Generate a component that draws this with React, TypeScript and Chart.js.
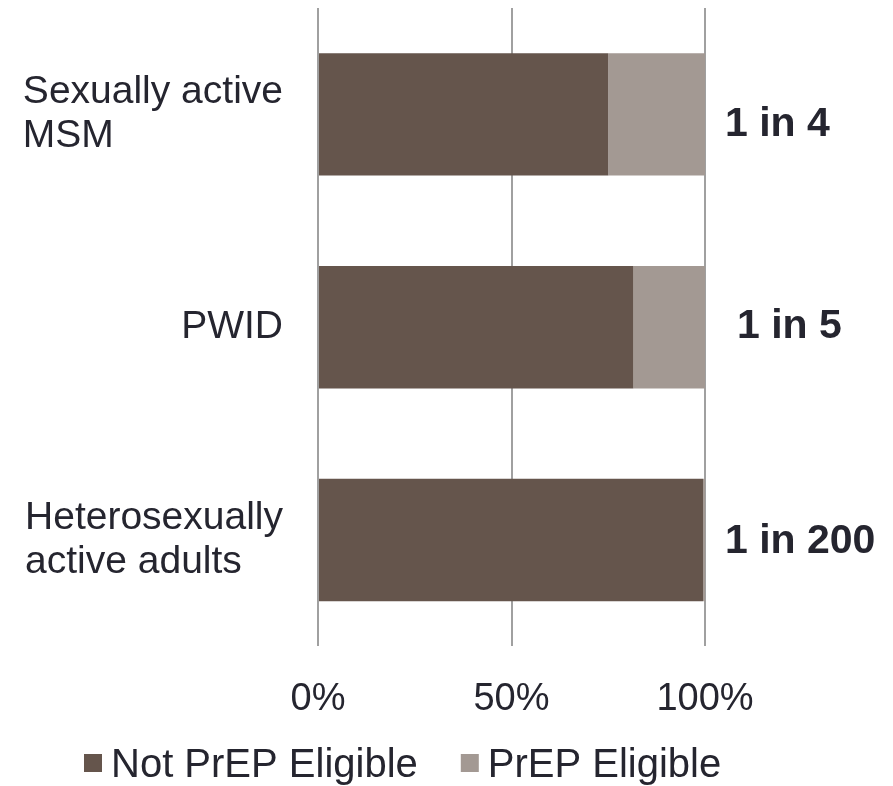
import React, { useEffect, useRef } from "react";
import { Chart, registerables } from "chart.js";

Chart.register(...registerables);

const categories: string[][] = [["Sexually active", "MSM"], ["PWID"], ["Heterosexually", "active adults"]];
const notEligible: number[] = [75, 81.5, 99.5];
const eligible: number[] = [25, 18.5, 0.5];
const ratioLabels: string[] = ["1 in 4", "1 in 5", "1 in 200"];
const seriesNames: string[] = ["Not PrEP Eligible", "PrEP Eligible"];
const xTicks: number[] = [0, 50, 100];

const DARK = "#65554c";
const LIGHT = "#a39993";
const TEXT = "#25252f";
const FONT = "'Liberation Sans', Arial, sans-serif";

// layout tweaks for the ratio annotations (pixels, relative to bar center / chart right)
const RATIO_DX = [20, 32, 20];
const RATIO_DY = [10, -1, 2];

const customText = {
  id: "customText",
  afterDraw(chart: any) {
    const ctx = chart.ctx;
    const y = chart.scales.y;
    const area = chart.chartArea;
    ctx.save();
    ctx.fillStyle = TEXT;
    // category labels: block right aligned, lines left aligned
    ctx.font = `39px ${FONT}`;
    ctx.textBaseline = "middle";
    ctx.textAlign = "left";
    const lh = 44;
    categories.forEach((lines, i) => {
      const cy = y.getPixelForTick(i);
      const maxW = Math.max(...lines.map((l) => ctx.measureText(l).width));
      const x0 = area.left - 35 - maxW;
      const startY = cy - ((lines.length - 1) * lh) / 2;
      lines.forEach((l, j) => ctx.fillText(l, x0, startY + j * lh));
    });
    // ratio labels
    ctx.font = `bold 41px ${FONT}`;
    ratioLabels.forEach((t, i) => {
      const cy = y.getPixelForTick(i);
      ctx.fillText(t, area.right + RATIO_DX[i], cy + RATIO_DY[i]);
    });
    // legend
    ctx.font = `40px ${FONT}`;
    let lx = 84;
    const ly = 766;
    const colors = [DARK, LIGHT];
    seriesNames.forEach((n, i) => {
      ctx.fillStyle = colors[i];
      ctx.fillRect(lx, ly - 12, 18, 18);
      lx += 27;
      ctx.fillStyle = TEXT;
      ctx.fillText(n, lx, ly);
      lx += ctx.measureText(n).width + 43;
    });
    ctx.restore();
  },
};

export default function App() {
  const ref = useRef<HTMLCanvasElement>(null);
  useEffect(() => {
    if (!ref.current) return;
    const chart = new Chart(ref.current, {
      type: "bar",
      data: {
        labels: categories.map((c) => c.join(" ")),
        datasets: [
          { label: seriesNames[0], data: notEligible, backgroundColor: DARK, borderWidth: 0, barPercentage: 0.575, categoryPercentage: 1 },
          { label: seriesNames[1], data: eligible, backgroundColor: LIGHT, borderWidth: 0, barPercentage: 0.575, categoryPercentage: 1 },
        ],
      },
      options: {
        indexAxis: "y",
        responsive: false,
        animation: false,
        devicePixelRatio: 1,
        layout: { padding: { left: 318, right: 188, top: 8, bottom: 34 } },
        plugins: { legend: { display: false }, tooltip: { enabled: false } },
        scales: {
          x: {
            stacked: true,
            min: 0,
            max: 100,
            afterBuildTicks: (s: any) => {
              s.ticks = xTicks.map((v) => ({ value: v }));
            },
            ticks: {
              callback: (v: any) => v + "%",
              color: TEXT,
              font: { family: FONT, size: 38 },
              padding: 30,
              maxRotation: 0,
            },
            grid: { color: "#a0a0a0", lineWidth: 2, drawTicks: false },
            border: { display: false },
          },
          y: {
            display: false,
            stacked: true,
          },
        },
      },
      plugins: [customText],
    });
    return () => chart.destroy();
  }, []);
  return (
    <div style={{ position: "absolute", left: 0, top: 0, width: 893, height: 786, background: "#fff" }}>
      <canvas ref={ref} width={893} height={786} />
    </div>
  );
}
